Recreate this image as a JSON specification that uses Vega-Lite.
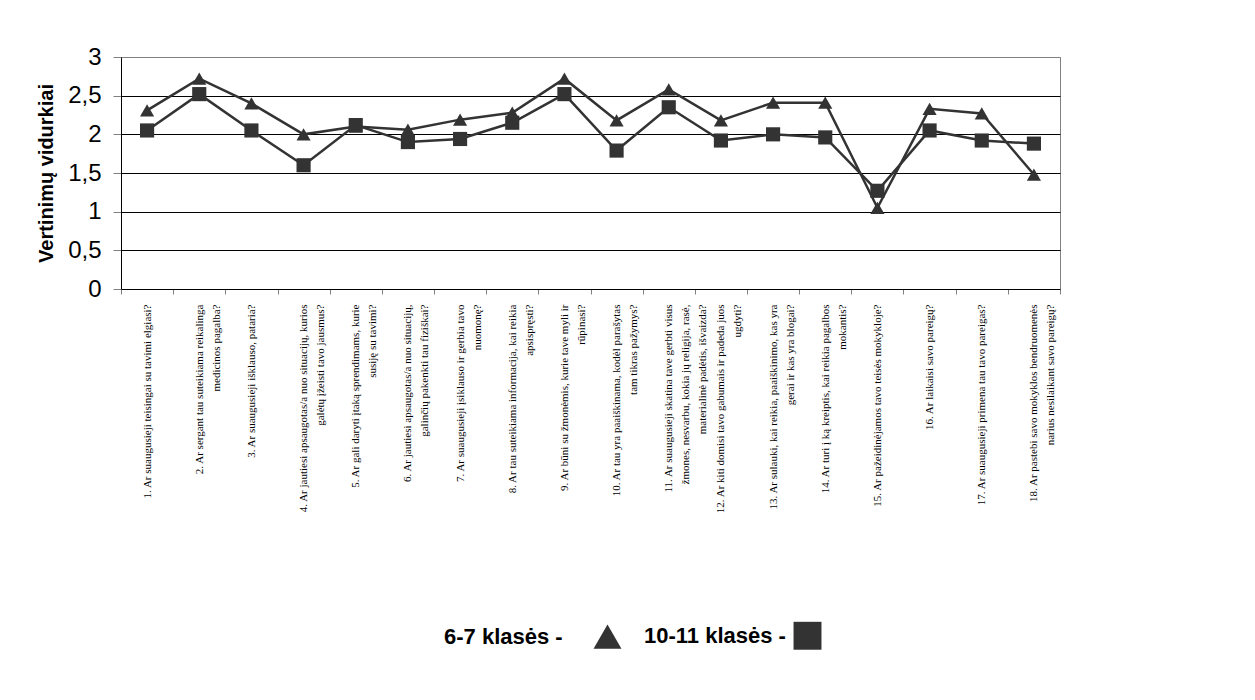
{
  "$schema": "https://vega.github.io/schema/vega-lite/v6.json",
  "width": 939,
  "height": 232,
  "padding": {"left": 36, "top": 45, "right": 5, "bottom": 5},
  "background": "white",
  "config": {
    "view": {"stroke": "#808080", "strokeWidth": 1},
    "font": "Liberation Sans"
  },
  "data": {
    "values": [
      {"q": "1. Ar suaugusieji teisingai su tavimi elgiasi?", "g": "6-7 klasės -", "v": 2.31},
      {"q": "2. Ar sergant tau suteikiama reikalinga|medicinos pagalba?", "g": "6-7 klasės -", "v": 2.72},
      {"q": "3. Ar suaugusieji išklauso, pataria?", "g": "6-7 klasės -", "v": 2.4},
      {"q": "4. Ar jautiesi apsaugotas/a nuo situacijų, kurios|galėtų įžeisti tavo jausmus?", "g": "6-7 klasės -", "v": 2.0},
      {"q": "5. Ar gali daryti įtaką sprendimams, kurie|susiję su tavimi?", "g": "6-7 klasės -", "v": 2.1},
      {"q": "6. Ar jautiesi apsaugotas/a nuo situacijų,|galinčių pakenkti tau fiziškai?", "g": "6-7 klasės -", "v": 2.06},
      {"q": "7. Ar suaugusieji įsiklauso ir gerbia tavo|nuomonę?", "g": "6-7 klasės -", "v": 2.19},
      {"q": "8. Ar tau suteikiama informacija, kai reikia|apsispręsti?", "g": "6-7 klasės -", "v": 2.28},
      {"q": "9. Ar būni su žmonėmis, kurie tave myli ir|rūpinasi?", "g": "6-7 klasės -", "v": 2.72},
      {"q": "10. Ar tau yra paaiškinama, kodėl parašytas|tam tikras pažymys?", "g": "6-7 klasės -", "v": 2.18},
      {"q": "11. Ar suaugusieji skatina tave gerbti visus|žmones, nesvarbu, kokia jų religija, rasė,|materialinė padėtis, išvaizda?", "g": "6-7 klasės -", "v": 2.58},
      {"q": "12. Ar kiti domisi tavo gabumais ir padeda juos|ugdyti?", "g": "6-7 klasės -", "v": 2.18},
      {"q": "13. Ar sulauki, kai reikia, paaiškinimo, kas yra|gerai ir kas yra blogai?", "g": "6-7 klasės -", "v": 2.41},
      {"q": "14. Ar turi į ką kreiptis, kai reikia pagalbos|mokantis?", "g": "6-7 klasės -", "v": 2.41},
      {"q": "15. Ar pažeidinėjamos tavo teisės mokykloje?", "g": "6-7 klasės -", "v": 1.05},
      {"q": "16. Ar laikaisi savo pareigų?", "g": "6-7 klasės -", "v": 2.33},
      {"q": "17. Ar suaugusieji primena tau tavo pareigas?", "g": "6-7 klasės -", "v": 2.27},
      {"q": "18. Ar pastebi savo mokyklos bendruomenės|narius nesilaikant savo pareigų?", "g": "6-7 klasės -", "v": 1.48},
      {"q": "1. Ar suaugusieji teisingai su tavimi elgiasi?", "g": "10-11 klasės -", "v": 2.05},
      {"q": "2. Ar sergant tau suteikiama reikalinga|medicinos pagalba?", "g": "10-11 klasės -", "v": 2.52},
      {"q": "3. Ar suaugusieji išklauso, pataria?", "g": "10-11 klasės -", "v": 2.05},
      {"q": "4. Ar jautiesi apsaugotas/a nuo situacijų, kurios|galėtų įžeisti tavo jausmus?", "g": "10-11 klasės -", "v": 1.6},
      {"q": "5. Ar gali daryti įtaką sprendimams, kurie|susiję su tavimi?", "g": "10-11 klasės -", "v": 2.12},
      {"q": "6. Ar jautiesi apsaugotas/a nuo situacijų,|galinčių pakenkti tau fiziškai?", "g": "10-11 klasės -", "v": 1.9},
      {"q": "7. Ar suaugusieji įsiklauso ir gerbia tavo|nuomonę?", "g": "10-11 klasės -", "v": 1.94},
      {"q": "8. Ar tau suteikiama informacija, kai reikia|apsispręsti?", "g": "10-11 klasės -", "v": 2.15},
      {"q": "9. Ar būni su žmonėmis, kurie tave myli ir|rūpinasi?", "g": "10-11 klasės -", "v": 2.52},
      {"q": "10. Ar tau yra paaiškinama, kodėl parašytas|tam tikras pažymys?", "g": "10-11 klasės -", "v": 1.79},
      {"q": "11. Ar suaugusieji skatina tave gerbti visus|žmones, nesvarbu, kokia jų religija, rasė,|materialinė padėtis, išvaizda?", "g": "10-11 klasės -", "v": 2.35},
      {"q": "12. Ar kiti domisi tavo gabumais ir padeda juos|ugdyti?", "g": "10-11 klasės -", "v": 1.92},
      {"q": "13. Ar sulauki, kai reikia, paaiškinimo, kas yra|gerai ir kas yra blogai?", "g": "10-11 klasės -", "v": 2.0},
      {"q": "14. Ar turi į ką kreiptis, kai reikia pagalbos|mokantis?", "g": "10-11 klasės -", "v": 1.96},
      {"q": "15. Ar pažeidinėjamos tavo teisės mokykloje?", "g": "10-11 klasės -", "v": 1.27},
      {"q": "16. Ar laikaisi savo pareigų?", "g": "10-11 klasės -", "v": 2.05},
      {"q": "17. Ar suaugusieji primena tau tavo pareigas?", "g": "10-11 klasės -", "v": 1.92},
      {"q": "18. Ar pastebi savo mokyklos bendruomenės|narius nesilaikant savo pareigų?", "g": "10-11 klasės -", "v": 1.88}
    ]
  },
  "encoding": {
    "x": {
      "field": "q",
      "type": "nominal",
      "sort": null,
      "scale": {"paddingInner": 0, "paddingOuter": 0},
      "axis": {
        "title": null,
        "labelAngle": -90,
        "labelAlign": "right",
        "labelBaseline": "middle",
        "labelExpr": "isValid(datum.value) ? split(datum.value, '|') : ''",
        "labelFont": "Liberation Serif",
        "labelFontSize": 11,
        "labelLineHeight": 17,
        "labelColor": "black",
        "labelLimit": 400,
        "labelPadding": 10,
        "labelOverlap": false,
        "tickBand": "extent",
        "tickSize": 5,
        "tickColor": "#808080",
        "domainColor": "black",
        "grid": false
      }
    },
    "y": {
      "field": "v",
      "type": "quantitative",
      "scale": {"domain": [0, 3], "nice": false},
      "axis": {
        "title": "Vertinimų vidurkiai",
        "titleFont": "Liberation Sans",
        "titleFontSize": 20,
        "titleFontWeight": "bold",
        "titleColor": "black",
        "titlePadding": 11,
        "values": [0, 0.5, 1, 1.5, 2, 2.5, 3],
        "format": "~g",
        "labelExpr": "replace(datum.label, '.', ',')",
        "labelFont": "Liberation Sans",
        "labelFontSize": 24,
        "labelColor": "black",
        "labelPadding": 12,
        "tickSize": 8,
        "tickColor": "#808080",
        "domainColor": "black",
        "grid": true,
        "gridColor": {"condition": {"test": "datum.value === 3 || datum.value === 0", "value": "#808080"}, "value": "black"},
        "gridWidth": 1
      }
    }
  },
  "layer": [
    {
      "mark": {"type": "line", "color": "#333333", "strokeWidth": 2.5},
      "encoding": {"detail": {"field": "g", "type": "nominal"}}
    },
    {
      "mark": {"type": "point", "filled": true, "color": "#333333", "opacity": 1, "size": 200},
      "encoding": {
        "shape": {
          "field": "g",
          "type": "nominal",
          "scale": {"domain": ["6-7 klasės -", "10-11 klasės -"], "range": ["triangle-up", "square"]},
          "legend": {
            "title": null,
            "orient": "none",
            "direction": "horizontal",
            "legendX": 322,
            "legendY": 564,
            "symbolSize": 780,
            "symbolFillColor": "#333333",
            "symbolStrokeColor": "#222222",
            "symbolStrokeWidth": 1,
            "symbolOffset": 150,
            "labelOffset": -178,
            "labelFont": "Liberation Sans",
            "labelFontSize": 22,
            "labelFontWeight": "bold",
            "labelColor": "black",
            "columnPadding": 19,
            "labelLimit": 300
          }
        }
      }
    }
  ]
}
